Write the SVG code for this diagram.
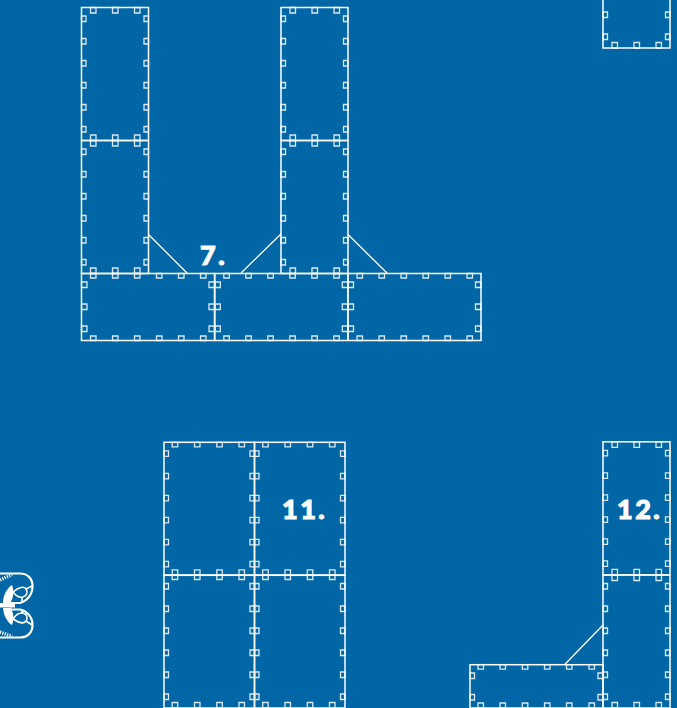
<svg xmlns="http://www.w3.org/2000/svg" width="677" height="708" viewBox="0 0 677 708">
<style>
.p{fill:none;stroke:#fff;stroke-width:1.5}
.t{fill:none;stroke:#fff;stroke-width:1.3;opacity:.85}
.d{fill:none;stroke:#fff;stroke-width:1.3}
.n{font-family:"Lato","Liberation Sans",sans-serif;font-weight:900;font-size:27px;fill:#fff;stroke:#fff;stroke-width:1.1;letter-spacing:2.500px}
</style>
<defs>
<g id="tv">
<path class="t" d="M9 0h5.500v5.500h-5.500zM31 0h5.500v5.500h-5.500zM53 0h5.500v5.500h-5.500zM9 127.500h5.500v5.500h-5.500zM31 127.500h5.500v5.500h-5.500zM53 127.500h5.500v5.500h-5.500z"/>
<path class="t" d="M0 8.500h4.500v5.500h-4.500zM0 31h4.500v5.500h-4.500zM0 53h4.500v5.500h-4.500zM0 75h4.500v5.500h-4.500zM0 97h4.500v5.500h-4.500zM0 119h4.500v5.500h-4.500z"/>
<path class="t" d="M62.500 8.500h4.500v5.500h-4.500zM62.500 31h4.500v5.500h-4.500zM62.500 53h4.500v5.500h-4.500zM62.500 75h4.500v5.500h-4.500zM62.500 97h4.500v5.500h-4.500zM62.500 119h4.500v5.500h-4.500z"/>
<rect class="p" width="67" height="133"/>
</g>
<g id="th">
<path class="t" d="M9 0h5.500v4.500h-5.500zM31 0h5.500v4.500h-5.500zM53 0h5.500v4.500h-5.500zM75 0h5.500v4.500h-5.500zM97 0h5.500v4.500h-5.500zM119 0h5.500v4.500h-5.500z"/>
<path class="t" d="M9 62.500h5.500v4.500h-5.500zM31 62.500h5.500v4.500h-5.500zM53 62.500h5.500v4.500h-5.500zM75 62.500h5.500v4.500h-5.500zM97 62.500h5.500v4.500h-5.500zM119 62.500h5.500v4.500h-5.500z"/>
<path class="t" d="M0 8.500h5.500v5.500h-5.500zM0 30.500h5.500v5.500h-5.500zM0 52.500h5.500v5.500h-5.500zM127.500 8.500h5.500v5.500h-5.500zM127.500 30.500h5.500v5.500h-5.500zM127.500 52.500h5.500v5.500h-5.500z"/>
<rect class="p" width="133" height="67"/>
</g>
<g id="tw">
<path class="t" d="M8.200 0h5.500v4.500h-5.500zM30.500 0h5.500v4.500h-5.500zM52.800 0h5.500v4.500h-5.500zM75 0h5.500v4.500h-5.500zM8.200 127.500h5.500v5.500h-5.500zM30.500 127.500h5.500v5.500h-5.500zM52.800 127.500h5.500v5.500h-5.500zM75 127.500h5.500v5.500h-5.500z"/>
<path class="t" d="M0 8.500h4.500v5.500h-4.500zM0 31h4.500v5.500h-4.500zM0 53h4.500v5.500h-4.500zM0 75h4.500v5.500h-4.500zM0 97h4.500v5.500h-4.500zM0 119h4.500v5.500h-4.500z"/>
<path class="t" d="M86 8.500h4.500v5.500h-4.500zM86 31h4.500v5.500h-4.500zM86 53h4.500v5.500h-4.500zM86 75h4.500v5.500h-4.500zM86 97h4.500v5.500h-4.500zM86 119h4.500v5.500h-4.500z"/>
<rect class="p" width="90.500" height="133"/>
</g>
</defs>
<rect width="677" height="708" fill="#0066a6"/>
<g id="panel-7-a"><use href="#tv" x="81.500" y="7.500"/><use href="#tv" x="81.500" y="140.500"/></g>
<g id="panel-7-b"><use href="#tv" x="281" y="7.500"/><use href="#tv" x="281" y="140.500"/></g>
<g id="panel-7-c"><use href="#th" x="81.500" y="273.500"/><use href="#th" x="214.800" y="273.500"/><use href="#th" x="348" y="273.500"/></g>
<g id="panel-top-right"><use href="#tv" x="603" y="-85"/></g>
<g id="panel-11"><use href="#tw" x="164" y="442.300"/><use href="#tw" x="254.500" y="442.300"/><use href="#tw" x="164" y="575"/><use href="#tw" x="254.500" y="575"/></g>
<g id="panel-12"><use href="#tv" x="603" y="441.800"/><use href="#tv" x="603" y="575"/>
<path class="t" d="M478 664.700h5.500v4.500h-5.500zM500 664.700h5.500v4.500h-5.500zM522.300 664.700h5.500v4.500h-5.500zM544.500 664.700h5.500v4.500h-5.500zM566.500 664.700h5.500v4.500h-5.500zM589 664.700h5.500v4.500h-5.500zM478 703h5.500v5h-5.500zM500 703h5.500v5h-5.500zM522.300 703h5.500v5h-5.500zM544.500 703h5.500v5h-5.500zM566.500 703h5.500v5h-5.500zM589 703h5.500v5h-5.500z"/>
<path class="t" d="M470 673h4.500v5.500h-4.500zM470 694.500h4.500v5.500h-4.500zM598 673h5v5.500h-5zM598 694.500h5v5.500h-5z"/>
<rect class="p" x="470" y="664.700" width="133" height="43.300"/></g>
<g id="connectors">
<path class="d" d="M148.500 234.500L187 273M281 234L241 273M348 234.500L387 273M603 625L564.500 664.700"/>
</g>
<g id="labels">
<text class="n" x="200" y="265">7.</text>
<text class="n" x="282" y="519">11.</text>
<text class="n" x="617" y="519">12.</text>
</g>
<g id="logo" fill="none" stroke="#fff" stroke-width="1.6">
<path stroke-width="2.200" d="M0 573.500H20C28 573.500 32.500 579 32.500 586C32.500 595 27 601 20 603H8M0 637.500H20C28 637.500 32.500 632 32.500 625C32.500 617 27 611 20 609.500H8"/>
<path stroke-width="3.500" stroke-dasharray="1.200 1.300" d="M0 580L12 574.500M0 632L12 636.500"/>
<path d="M13 592C17 597 20 598 23 597C27 596 28 592 26 589C24 586 19 587 13 592ZM26 589L32 586M22 597V602M13 619C17 613 20 613 23 613C27 614 28 618 26 621C24 624 19 623 13 619ZM26 621L32 625M22 613V610"/>
<path fill="#fff" stroke="none" d="M3 603C3 595 8 587 12 585C14 590 14 598 10 603ZM3 607C3 615 8 623 12 625C14 620 14 612 10 607ZM0 603H15V607.500H0Z"/>
</g>
</svg>
